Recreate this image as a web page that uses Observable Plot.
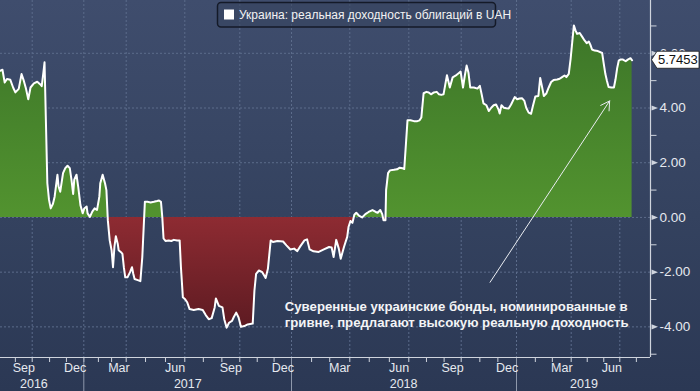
<!DOCTYPE html>
<html>
<head>
<meta charset="utf-8">
<script src="https://cdn.jsdelivr.net/npm/d3@7"></script>
<script src="https://cdn.jsdelivr.net/npm/@observablehq/plot@0.6"></script>
<style>
html, body { margin: 0; padding: 0; }
body { width: 700px; height: 391px; overflow: hidden;
  background: linear-gradient(to bottom, #3f4d6d 0%, #34425f 55%, #2b3854 100%); }
#chart svg { display: block; }
</style>
</head>
<body>
<div id="chart"></div>
<script>
// ---- data ----
const dates = [
"2016-08-05","2016-08-09","2016-08-13","2016-08-17","2016-08-23","2016-08-28","2016-09-01","2016-09-07","2016-09-12","2016-09-16",
"2016-09-20","2016-09-24","2016-09-28","2016-10-04","2016-10-10","2016-10-15","2016-10-18","2016-10-21","2016-10-23","2016-10-28",
"2016-10-31","2016-11-03","2016-11-07","2016-11-10","2016-11-15","2016-11-17","2016-11-20","2016-11-25","2016-11-29","2016-12-03",
"2016-12-07","2016-12-10","2016-12-13","2016-12-15","2016-12-19","2016-12-22","2016-12-26","2016-12-30","2017-01-02","2017-01-07",
"2017-01-09","2017-01-14","2017-01-19","2017-01-24","2017-01-29","2017-02-03","2017-02-05","2017-02-10","2017-02-15","2017-02-18",
"2017-02-21","2017-02-25","2017-03-01","2017-03-04","2017-03-07","2017-03-10","2017-03-14","2017-03-16","2017-03-21","2017-03-24",
"2017-03-27","2017-03-30","2017-04-03","2017-04-07","2017-04-10","2017-04-12","2017-04-14","2017-04-19","2017-04-23","2017-04-26",
"2017-04-30","2017-05-04","2017-05-09","2017-05-14","2017-05-19","2017-05-22","2017-05-25","2017-05-27","2017-05-29","2017-06-01",
"2017-06-06","2017-06-10","2017-06-14","2017-06-19","2017-06-23","2017-06-25","2017-06-28","2017-07-01","2017-07-05","2017-07-09",
"2017-07-16","2017-07-24","2017-07-31","2017-08-05","2017-08-10","2017-08-15","2017-08-20","2017-08-22","2017-08-27","2017-09-02",
"2017-09-05","2017-09-09","2017-09-13","2017-09-18","2017-09-21","2017-09-25","2017-09-29","2017-10-03","2017-10-09","2017-10-15",
"2017-10-24","2017-10-27","2017-10-30","2017-11-04","2017-11-10","2017-11-16","2017-11-20","2017-11-25","2017-11-29","2017-12-07",
"2017-12-17","2017-12-23","2017-12-30","2018-01-05","2018-01-10","2018-01-15","2018-01-21","2018-01-25","2018-01-29","2018-02-04",
"2018-02-12","2018-02-20","2018-02-28","2018-03-04","2018-03-07","2018-03-11","2018-03-15","2018-03-18","2018-03-23","2018-03-28",
"2018-03-30","2018-04-02","2018-04-05","2018-04-08","2018-04-11","2018-04-15","2018-04-20","2018-04-25","2018-04-30","2018-05-06",
"2018-05-11","2018-05-14","2018-05-18","2018-05-21","2018-05-23","2018-05-26","2018-05-27","2018-05-30","2018-06-02","2018-06-08",
"2018-06-13","2018-06-17","2018-06-21","2018-06-24","2018-06-29","2018-07-04","2018-07-10","2018-07-16","2018-07-20","2018-07-23",
"2018-07-27","2018-08-01","2018-08-05","2018-08-09","2018-08-14","2018-08-19","2018-08-23","2018-08-27","2018-08-31","2018-09-06",
"2018-09-11","2018-09-16","2018-09-21","2018-09-27","2018-09-30","2018-10-04","2018-10-07","2018-10-10","2018-10-13","2018-10-16",
"2018-10-22","2018-10-28","2018-11-01","2018-11-04","2018-11-07","2018-11-12","2018-11-16","2018-11-20","2018-11-24","2018-11-28",
"2018-12-02","2018-12-04","2018-12-07","2018-12-11","2018-12-15","2018-12-19","2018-12-23","2018-12-29","2019-01-02","2019-01-06",
"2019-01-10","2019-01-14","2019-01-17","2019-01-21","2019-01-25","2019-01-28","2019-02-01","2019-02-06","2019-02-09","2019-02-12",
"2019-02-15","2019-02-19","2019-02-23","2019-02-27","2019-03-03","2019-03-09","2019-03-13","2019-03-17","2019-03-21","2019-03-24",
"2019-03-28","2019-03-31","2019-04-06","2019-04-09","2019-04-12","2019-04-17","2019-04-22","2019-04-26","2019-04-30","2019-05-04",
"2019-05-07","2019-05-10","2019-05-15","2019-05-21","2019-05-29","2019-06-01","2019-06-04","2019-06-07","2019-06-10","2019-06-15",
"2019-06-20","2019-06-23","2019-06-26","2019-06-29","2019-07-02","2019-07-07","2019-07-12","2019-07-16","2019-07-21","2019-07-24"
];
const values = [
5.36,5.40,4.93,5.06,5.03,4.75,4.57,4.70,5.24,5.00,
4.70,4.32,4.75,4.90,4.96,4.87,4.80,5.30,5.67,1.25,
0.64,0.33,0.50,0.76,1.56,1.13,0.94,1.62,1.80,1.89,
1.80,1.38,0.86,1.38,1.56,1.13,0.45,0.15,0.33,0.40,
0.15,0.02,0.21,0.33,0.27,0.76,1.25,1.56,1.25,1.00,
-0.10,-0.84,-1.20,-1.82,-1.08,-0.69,-0.96,-1.20,-1.27,-1.33,
-1.82,-2.19,-2.19,-2.00,-1.82,-2.06,-2.25,-2.29,-2.33,-1.45,
0.57,0.57,0.55,0.57,0.60,0.62,0.57,0.02,-0.77,-0.86,
-0.84,-0.86,-0.82,-0.84,-0.84,-1.82,-2.92,-2.98,-3.10,-3.35,
-3.38,-3.35,-3.38,-3.57,-3.72,-3.68,-3.29,-2.96,-3.23,-3.29,
-3.72,-4.03,-3.85,-3.78,-3.64,-3.48,-3.66,-4.00,-3.97,-3.91,
-3.88,-2.68,-2.06,-1.94,-2.00,-2.21,-1.88,-0.84,-0.90,-0.86,
-0.88,-1.02,-1.17,-1.14,-1.23,-1.04,-0.84,-0.80,-1.17,-1.24,
-1.26,-1.17,-1.08,-1.10,-1.45,-0.82,-1.14,-1.51,-1.08,-0.71,
-0.35,-0.13,-0.20,0.10,0.17,0.07,0.00,0.12,0.20,0.27,
0.20,0.17,0.27,0.12,-0.10,-0.10,1.00,1.62,1.72,1.74,
1.76,1.82,1.80,1.77,3.55,3.55,3.52,3.52,3.55,3.65,
4.54,4.59,4.57,4.50,4.57,4.59,4.50,4.48,4.50,5.20,
4.75,5.12,5.18,5.28,5.33,4.75,5.18,5.55,5.30,4.75,
4.75,4.71,4.81,4.50,4.17,4.10,3.89,4.01,4.10,4.13,
3.95,3.80,4.10,4.01,3.99,3.98,4.13,4.40,4.32,4.35,
4.36,4.26,4.01,3.83,3.79,4.07,4.42,4.44,5.10,4.78,
4.44,4.53,4.75,4.95,5.02,5.04,5.07,5.13,5.19,5.13,
5.25,5.79,7.02,6.84,6.71,6.74,6.59,6.47,6.37,6.43,
6.31,6.14,6.10,6.08,6.01,5.61,5.24,4.99,4.77,4.75,
4.75,5.05,5.45,5.73,5.77,5.77,5.71,5.77,5.82,5.7453
];
const lastValue = 5.7453;

const legendText = "Украина: реальная доходность облигаций в UAH";
const noteText = "Суверенные украинские бонды, номинированные в\nгривне, предлагают высокую реальную доходность";
const noteAt = {date: "2017-12-20", v: -2.99};
const arrowFrom = {date: "2018-11-18", v: -2.37};
const arrowTo = {date: "2019-06-12", v: 4.26};

const yMajor = [-4, -2, 0, 2, 4, 6];
const yMinor = [-5, -3, -1, 1, 3, 5, 7];
const quarterLines = ["2016-10-01","2017-01-01","2017-04-01","2017-07-01","2017-10-01","2018-01-01",
  "2018-04-01","2018-07-01","2018-10-01","2019-01-01","2019-04-01","2019-07-01"];
const yearStarts = ["2017-01-01","2018-01-01","2019-01-01"];
const monthLabelStarts = ["2016-09-01","2016-12-01","2017-03-01","2017-06-01","2017-09-01","2017-12-01",
  "2018-03-01","2018-06-01","2018-09-01","2018-12-01","2019-03-01","2019-06-01"];
const monthLabelTexts = ["Sep","Dec","Mar","Jun","Sep","Dec","Mar","Jun","Sep","Dec","Mar","Jun"];
const yearLabelDates = ["2016-10-04","2017-07-06","2018-06-23","2019-04-25"];
const yearLabelTexts = ["2016","2017","2018","2019"];

// piecewise time axis of the reference (quarters are not evenly spaced)
const axisBreakDates = ["2016-08-05T12:00Z","2016-10-01","2017-01-01","2017-04-01","2017-07-01","2017-10-01",
  "2018-01-01","2018-04-01","2018-07-01","2018-10-01","2019-01-01","2019-04-01","2019-07-01","2019-08-27T11:00Z"];
const axisBreakPx = [0, 31.7, 83.3, 125.7, 184.3, 239.3, 291, 349.3, 408.3, 460.7, 516, 570.7, 619.3, 650];

const yDomain = [-5.12, 7.93];

// ---- build ----
const data = dates.map((d, i) => ({date: new Date(d), v: values[i]}));
const xEnd = new Date(axisBreakDates[axisBreakDates.length - 1]);
const yMin = yDomain[0];
const monthTicks = d3.utcMonth.range(new Date("2016-08-01"), new Date("2019-09-01"));
const monthLabels = monthLabelStarts.map((s, i) => {
  const a = new Date(s), b = d3.utcMonth.offset(a, 1);
  return {date: new Date((+a + +b) / 2), text: monthLabelTexts[i]};
});
const yearLabels = yearLabelDates.map((d, i) => ({date: new Date(d), text: yearLabelTexts[i]}));

const gridColor = "#5c6c8b";
const axisColor = "#cfd4dd";
const labelColor = "#e6e9ef";
const FONT = "'Liberation Sans', Arial, sans-serif";

const vTick = len => ({draw(ctx) { ctx.moveTo(0, 0.5); ctx.lineTo(0, len); }});
const hTick = len => ({draw(ctx) { ctx.moveTo(0, 0); ctx.lineTo(len, 0); }});
const triRight = {draw(ctx) { ctx.moveTo(1, -2.6); ctx.lineTo(7.5, 0); ctx.lineTo(1, 2.6); ctx.closePath(); }};

function defsMark(index, scales) {
  const y = scales.y;
  const top = y(yDomain[1]), bot = y(yDomain[0]);
  const off = v => Math.max(0, Math.min(1, (y(v) - top) / (bot - top)));
  const svg = d3.create("svg:defs");
  const g = svg.append("linearGradient").attr("id", "realFill")
    .attr("gradientUnits", "userSpaceOnUse").attr("x1", 0).attr("x2", 0).attr("y1", top).attr("y2", bot);
  [[0, "#3a7228"], [off(0), "#52932f"], [off(0), "#8e2b32"], [off(-4), "#5e1b22"], [1, "#52171d"]]
    .forEach(([o, c]) => g.append("stop").attr("offset", o).attr("stop-color", c));
  return svg.node();
}

function overlayMark(index, scales) {
  const g = d3.create("svg:g").attr("text-anchor", "start");
  // legend box
  g.append("rect").attr("x", 217.5).attr("y", 2.5).attr("width", 278).attr("height", 24.5).attr("rx", 3.5)
    .attr("fill", "#37455f").attr("fill-opacity", 0.6).attr("stroke", "#141a28").attr("stroke-width", 1.5);
  g.append("rect").attr("x", 224).attr("y", 9.5).attr("width", 10).attr("height", 10).attr("fill", "#ffffff");
  g.append("text").attr("x", 239).attr("y", 19.2).attr("fill", "#f2f2f2").attr("text-anchor", "start")
    .attr("font-family", FONT).attr("font-size", 12).text(legendText);
  // last value flag (covers the 6.00 tick label as in the reference)
  const x0 = scales.x(xEnd), yv = scales.y(lastValue);
  g.append("path")
    .attr("d", `M${x0 + 1.5},${yv} L${x0 + 7},${yv - 8.5} H${x0 + 49} V${yv + 8.5} H${x0 + 7} Z`)
    .attr("fill", "#ffffff").attr("stroke", "#1b1b1b").attr("stroke-width", 0.8);
  g.append("text").attr("x", x0 + 8).attr("y", yv).attr("dy", "0.36em").attr("fill", "#111111")
    .attr("text-anchor", "start").attr("font-family", FONT).attr("font-size", 13).text(String(lastValue));
  return g.node();
}

const chart = Plot.plot({
  width: 700,
  height: 391,
  marginLeft: 0,
  marginRight: 50,
  marginTop: 0,
  marginBottom: 34,
  style: {background: "transparent", fontFamily: FONT, overflow: "visible"},
  x: {type: "utc", domain: axisBreakDates.map(d => new Date(d)), range: axisBreakPx, axis: null},
  y: {domain: yDomain, axis: null},
  marks: [
    defsMark,
    Plot.ruleY(yMajor, {stroke: gridColor, strokeDasharray: "2,2"}),
    Plot.ruleX(quarterLines, {x: d => new Date(d), stroke: gridColor, strokeDasharray: "2,2"}),
    Plot.areaY(data, {x: "date", y1: 0, y2: "v", fill: "url(#realFill)"}),
    Plot.lineY(data, {x: "date", y: "v", stroke: "#ffffff", strokeWidth: 2}),
    Plot.ruleY([yMin], {stroke: axisColor, strokeWidth: 1.2}),
    Plot.ruleX([xEnd], {stroke: axisColor, strokeWidth: 1.2}),
    Plot.dot(monthTicks, {x: d => d, y: () => yMin, symbol: vTick(4.5), stroke: axisColor, fill: "none", strokeWidth: 1}),
    Plot.dot(yearStarts, {x: d => new Date(d), y: () => yMin, symbol: vTick(34), stroke: "#8e98ab", fill: "none", strokeWidth: 1}),
    Plot.dot(yMinor, {x: () => xEnd, y: d => d, symbol: hTick(6), stroke: axisColor, fill: "none", strokeWidth: 1}),
    Plot.dot(yMajor, {x: () => xEnd, y: d => d, symbol: triRight, fill: axisColor, stroke: "none"}),
    Plot.text(yMajor, {x: () => xEnd, y: d => d, text: d => d.toFixed(2), dx: 9, textAnchor: "start",
      fill: labelColor, fontSize: 13.5}),
    Plot.text(monthLabels, {x: "date", y: () => yMin, text: "text", dy: 10.5, fill: labelColor, fontSize: 12.5}),
    Plot.text(yearLabels, {x: "date", y: () => yMin, text: "text", dy: 26.5, fill: labelColor, fontSize: 12.5}),
    Plot.arrow([arrowFrom], {x1: d => new Date(d.date), y1: "v", x2: () => new Date(arrowTo.date), y2: () => arrowTo.v,
      stroke: "#e9ecf1", strokeWidth: 1, headLength: 15, headAngle: 60}),
    Plot.text([noteAt], {x: d => new Date(d.date), y: "v", text: () => noteText, textAnchor: "start",
      lineAnchor: "top", lineHeight: 1.22, fontWeight: "bold", fontSize: 13.2,
      fontFamily: FONT, fill: "#f3f4f6"}),
    overlayMark
  ]
});
document.getElementById("chart").appendChild(chart);
</script>
</body>
</html>
